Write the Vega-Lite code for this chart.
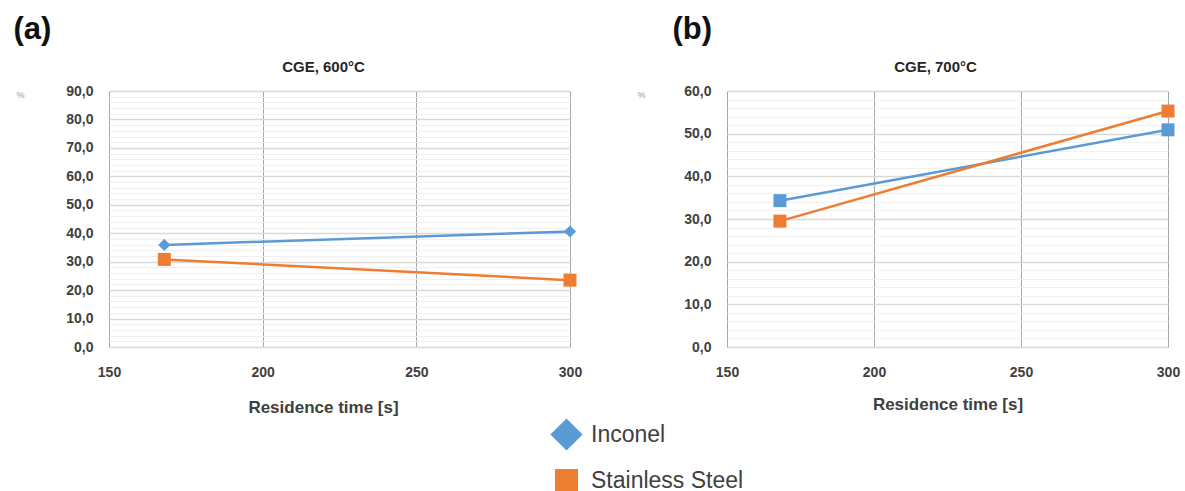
{
  "$schema": "https://vega.github.io/schema/vega-lite/v6.json",
  "autosize": {"type": "pad"},
  "padding": {"left": 13, "top": 13, "right": 5, "bottom": 5},
  "background": "white",
  "config": {
    "view": {"stroke": "#d9d9d9", "strokeWidth": 1},
    "font": "Liberation Sans",
    "axis": {
      "labelFont": "Liberation Sans",
      "labelFontWeight": "bold",
      "labelFontSize": 14,
      "labelColor": "#404040",
      "titleFont": "Liberation Sans",
      "titleFontWeight": "bold",
      "titleFontSize": 17,
      "titleColor": "#404040",
      "domain": false,
      "ticks": false
    }
  },
  "datasets": {
    "a": [
      {"series": "Inconel", "time": 168, "value": 35.9},
      {"series": "Inconel", "time": 300, "value": 40.6},
      {"series": "Stainless Steel", "time": 168, "value": 30.8},
      {"series": "Stainless Steel", "time": 300, "value": 23.5}
    ],
    "b": [
      {"series": "Inconel", "time": 168, "value": 34.3},
      {"series": "Inconel", "time": 300, "value": 50.9},
      {"series": "Stainless Steel", "time": 168, "value": 29.5},
      {"series": "Stainless Steel", "time": 300, "value": 55.3}
    ]
  },
  "spacing": 53,
  "hconcat": [
    {
      "title": {"text": "(a)", "anchor": "start", "dx": -2, "fontSize": 31, "fontWeight": "bold", "font": "Liberation Sans", "color": "#111111", "baseline": "bottom", "offset": -17},
      "vconcat": [
        {
          "title": {"text": "CGE, 600°C", "dx": -16, "fontSize": 15, "fontWeight": "bold", "color": "#262626", "baseline": "bottom", "offset": -6},
          "width": 461,
          "height": 256,
          "data": {"name": "a"},
          "layer": [
            {
              "mark": {"type": "line", "strokeWidth": 2.5},
              "encoding": {
                "x": {"field": "time", "type": "quantitative", "scale": {"domain": [150, 300], "nice": false, "zero": false},
                  "axis": {"values": [150, 200, 250, 300], "grid": true, "gridColor": "#a6a6a6", "gridWidth": 1, "labelFlush": false, "labelPadding": 18, "title": "Residence time [s]", "titlePadding": 20, "titleX": 214}},
                "y": {"field": "value", "type": "quantitative", "scale": {"domain": [0, 90], "nice": false},
                  "axis": {"orient": "right", "values": [2,4,6,8,12,14,16,18,22,24,26,28,32,34,36,38,42,44,46,48,52,54,56,58,62,64,66,68,72,74,76,78,82,84,86,88], "grid": true, "gridColor": "#f0f0f0", "gridWidth": 1, "labels": false, "title": null}},
                "color": {"field": "series", "type": "nominal", "scale": {"domain": ["Inconel", "Stainless Steel"], "range": ["#5B9BD5", "#ED7D31"]},
                  "legend": {"orient": "none", "legendX": 446, "legendY": 332, "title": null, "direction": "vertical", "symbolSize": 529, "labelFontSize": 23, "labelFont": "Liberation Sans", "labelColor": "#404040", "rowPadding": 18, "labelOffset": 13, "padding": 0, "symbolStrokeWidth": 0, "symbolOpacity": 1}}
              }
            },
            {
              "transform": [{"filter": "datum.series === 'Inconel'"}],
              "mark": {"type": "point", "filled": true, "opacity": 1, "size": 75},
              "encoding": {
                "x": {"field": "time", "type": "quantitative"},
                "y": {"field": "value", "type": "quantitative",
                  "axis": {"orient": "left", "values": [0,10,20,30,40,50,60,70,80,90], "grid": true, "gridColor": "#d9d9d9", "gridWidth": 1.5, "labelPadding": 16, "labelExpr": "replace(format(datum.value, '.1f'), '.', ',')", "title": "%", "titleAngle": 0, "titleAlign": "left", "titleFontSize": 9, "titleFontWeight": "normal", "titleColor": "#999999", "titleX": -93, "titleY": 8}},
                "color": {"field": "series", "type": "nominal"},
                "shape": {"field": "series", "type": "nominal", "scale": {"domain": ["Inconel", "Stainless Steel"], "range": ["M0,-1.4L1.4,0L0,1.4L-1.4,0Z", "square"]}}
              }
            },
            {
              "transform": [{"filter": "datum.series === 'Stainless Steel'"}],
              "mark": {"type": "point", "filled": true, "opacity": 1, "size": 169},
              "encoding": {
                "x": {"field": "time", "type": "quantitative"},
                "y": {"field": "value", "type": "quantitative", "axis": null},
                "color": {"field": "series", "type": "nominal"},
                "shape": {"field": "series", "type": "nominal"}
              }
            }
          ],
          "resolve": {"axis": {"y": "independent"}}
        }
      ]
    },
    {
      "title": {"text": "(b)", "anchor": "start", "dx": 36, "fontSize": 31, "fontWeight": "bold", "font": "Liberation Sans", "color": "#111111", "baseline": "bottom", "offset": -17},
      "vconcat": [
        {
          "title": {"text": "CGE, 700°C", "dx": -12, "fontSize": 15, "fontWeight": "bold", "color": "#262626", "baseline": "bottom", "offset": -6},
          "width": 441,
          "height": 256,
          "data": {"name": "b"},
          "layer": [
            {
              "mark": {"type": "line", "strokeWidth": 2.5},
              "encoding": {
                "x": {"field": "time", "type": "quantitative", "scale": {"domain": [150, 300], "nice": false, "zero": false},
                  "axis": {"values": [150, 200, 250, 300], "grid": true, "gridColor": "#a6a6a6", "gridWidth": 1, "labelFlush": false, "labelPadding": 18, "title": "Residence time [s]", "titlePadding": 17}},
                "y": {"field": "value", "type": "quantitative", "scale": {"domain": [0, 60], "nice": false},
                  "axis": {"orient": "right", "values": [2,4,6,8,12,14,16,18,22,24,26,28,32,34,36,38,42,44,46,48,52,54,56,58], "grid": true, "gridColor": "#f0f0f0", "gridWidth": 1, "labels": false, "title": null}},
                "color": {"field": "series", "type": "nominal"}
              }
            },
            {
              "mark": {"type": "point", "filled": true, "opacity": 1, "size": 169, "shape": "square"},
              "encoding": {
                "x": {"field": "time", "type": "quantitative"},
                "y": {"field": "value", "type": "quantitative",
                  "axis": {"orient": "left", "values": [0,10,20,30,40,50,60], "grid": true, "gridColor": "#d9d9d9", "gridWidth": 1.5, "labelPadding": 16, "labelExpr": "replace(format(datum.value, '.1f'), '.', ',')", "title": "%", "titleAngle": 0, "titleAlign": "left", "titleFontSize": 9, "titleFontWeight": "normal", "titleColor": "#999999", "titleX": -90, "titleY": 8}},
                "color": {"field": "series", "type": "nominal"}
              }
            }
          ],
          "resolve": {"axis": {"y": "independent"}}
        }
      ]
    }
  ],
  "resolve": {"scale": {"y": "independent", "x": "independent", "color": "shared"}}
}
